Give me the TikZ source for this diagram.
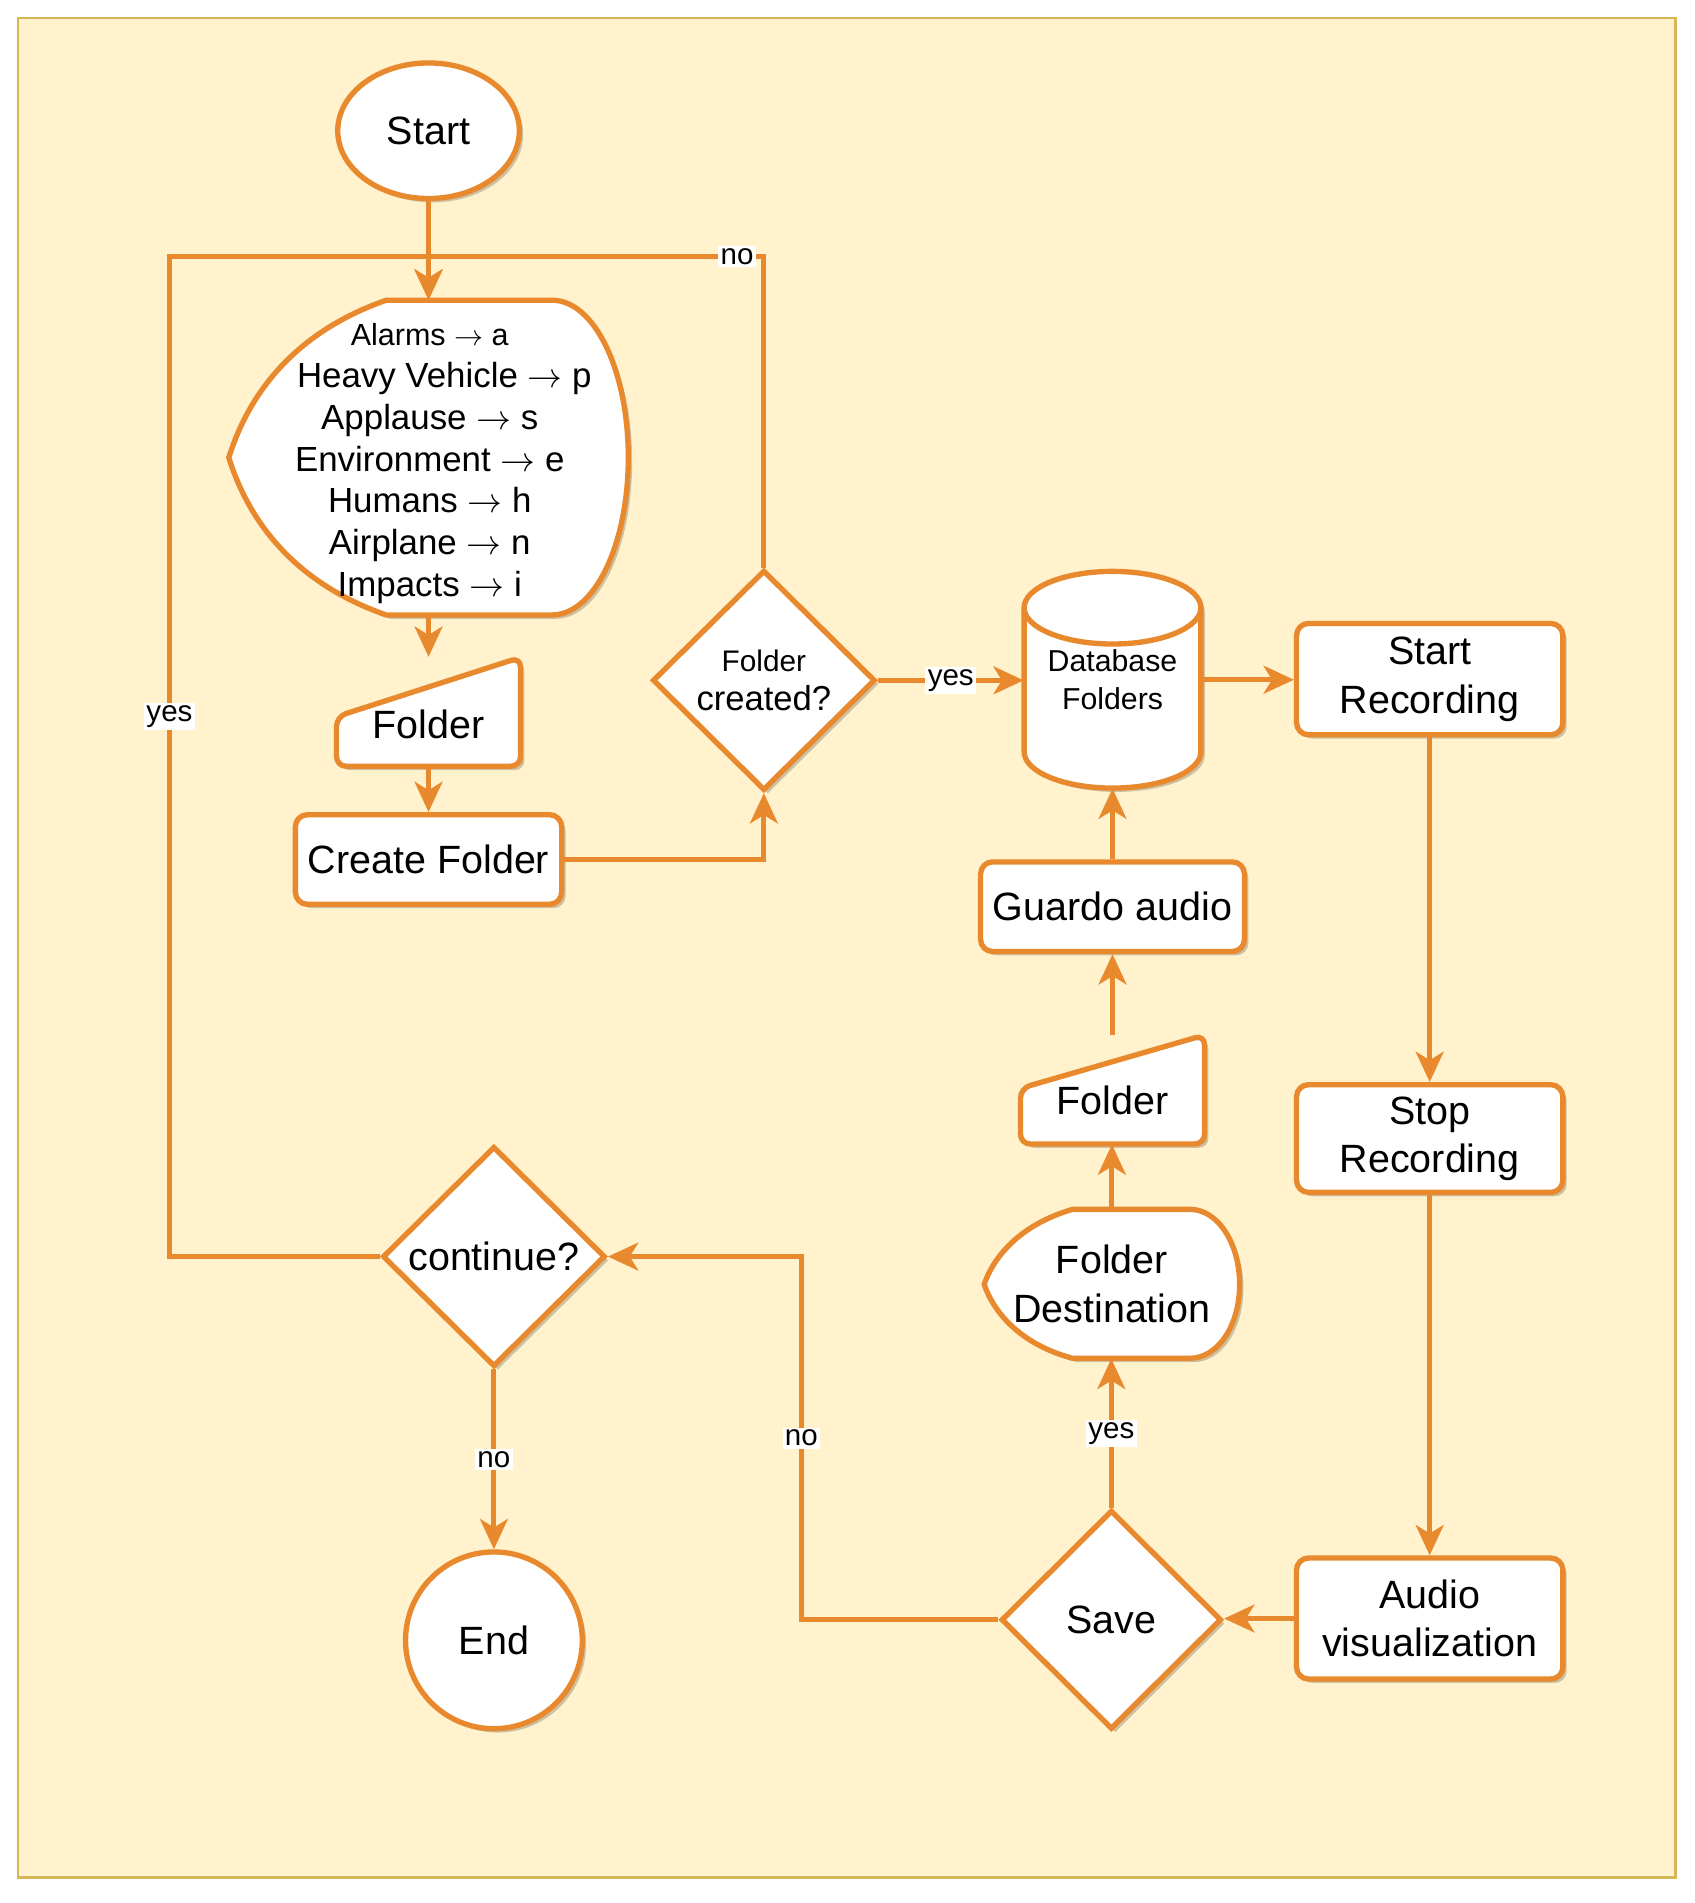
\documentclass[tikz,border=0pt]{standalone}
\usepackage{fontspec}
\setmainfont{Liberation Sans}
\usetikzlibrary{shapes.geometric,arrows.meta,shadows,calc}
\definecolor{org}{HTML}{E8892E}
\definecolor{bgfill}{HTML}{FFF2CC}
\definecolor{bgline}{HTML}{D6B656}
\newcommand{\mainfs}{\fontsize{16.3}{20}\selectfont}
\newcommand{\listfs}{\fontsize{14.4}{17.25}\selectfont}
\newcommand{\dbfs}{\fontsize{12.5}{16}\selectfont}
\newcommand{\ar}{$\rightarrow$}
\begin{document}
\begin{tikzpicture}[x=0.5pt,y=-0.5pt,
  shad/.style={drop shadow={shadow xshift=1.6pt,shadow yshift=-1.6pt,opacity=0.2,fill=black}},
  shapeline/.style={draw=org,line width=2.2pt,fill=white,shad},
  procbox/.style={shapeline,rectangle,rounded corners=5pt,inner sep=0pt,align=center,font=\mainfs},
  txt/.style={inner sep=0pt,align=center,font=\mainfs},
  decis/.style={shapeline,diamond,inner sep=0pt,align=center,font=\mainfs},
  conn/.style={draw=org,line width=2pt},
  arr/.style={conn,-{Stealth[length=12.5pt,width=11.5pt,inset=3.5pt]}},
  lbl/.style={fill=white,inner sep=1pt,font=\fontsize{12.2}{14}\selectfont,text=black}
]
\useasboundingbox (0,0) rectangle (1400,1572);
\fill[bgfill,draw=bgline,line width=1pt] (15,15) rectangle (1384,1551);

% Start
\node[shapeline,ellipse,minimum width=75pt,minimum height=56pt,inner sep=0pt,font=\mainfs] (start) at (354,108) {Start};

% display shape with categories
\draw[shapeline] (189,378) .. controls (204,330) and (239,276) .. (319,248) -- (456,248)
  .. controls (491,248) and (519,306) .. (519,378)
  .. controls (519,450) and (491,508) .. (456,508) -- (319,508)
  .. controls (239,480) and (204,426) .. (189,378) -- cycle;
\node[txt,minimum width=165pt,minimum height=130pt] (disp) at (354,378) {};
\node[txt,font=\listfs] (dispt) at (355,383)
  {{\fontsize{12.6}{17.25}\selectfont Alarms \ar{} a}\\
   \hspace*{12pt}Heavy Vehicle \ar{} p\\
   Applause \ar{} s\\
   Environment \ar{} e\\
   Humans \ar{} h\\
   Airplane \ar{} n\\
   Impacts \ar{} i};

% Folder (manual input) 1
\draw[shapeline,rounded corners=4pt] (278,592) -- (430,543) -- (430,633) -- (278,633) -- cycle;
\node[txt,minimum width=76pt,minimum height=45pt] (fold1) at (354,588) {};
\node[txt] (fold1t) at (354,598) {Folder};

% Create Folder
\node[procbox,minimum width=110pt,minimum height=37pt] (create) at (354,710) {Create Folder};

% Folder created?
\node[decis,font=\fontsize{14.3}{16}\selectfont,minimum width=92pt,minimum height=91pt] (fc) at (631,562)
  {{\fontsize{12.3}{16}\selectfont Folder}\\created?};

% Database cylinder
\draw[shapeline] (846,502) -- (846,621) arc[start angle=180,end angle=360,x radius=36.5pt,y radius=15pt]
  -- (992,502) arc[start angle=0,end angle=180,x radius=36.5pt,y radius=15pt] -- cycle;
\draw[draw=org,line width=2.2pt] (846,502) arc[start angle=180,end angle=360,x radius=36.5pt,y radius=15pt];
\node[txt,font=\dbfs,minimum width=73pt,minimum height=89.5pt] (db) at (919,561.5) {Database\\Folders};

% right column
\node[procbox,minimum width=110pt,minimum height=46pt] (srec) at (1181,561) {Start\\Recording};
\node[procbox,minimum width=110pt,minimum height=44.5pt] (stoprec) at (1181,940.5) {Stop\\Recording};
\node[procbox,minimum width=110pt,minimum height=50pt] (audio) at (1181,1337) {Audio\\visualization};

% Save
\node[decis,minimum width=91pt,minimum height=90.5pt] (save) at (918,1338) {Save};

% Folder Destination (display)
\draw[shapeline] (813,1061) .. controls (820,1040) and (841,1012) .. (886,999) -- (983,999)
  .. controls (1006,999) and (1024,1027) .. (1024,1061)
  .. controls (1024,1095) and (1006,1122) .. (983,1122) -- (886,1122)
  .. controls (841,1110) and (820,1082) .. (813,1061) -- cycle;
\node[txt,minimum width=105.5pt,minimum height=61.5pt] (fdest) at (918.5,1060.5) {Folder\\Destination};

% Folder 2
\draw[shapeline,rounded corners=4pt] (843,899) -- (995,855) -- (995,945) -- (843,945) -- cycle;
\node[txt,minimum width=76pt,minimum height=45pt] (fold2) at (919,900) {};
\node[txt] (fold2t) at (919,909) {Folder};

% Guardo audio
\node[procbox,minimum width=109pt,minimum height=37pt] (guardo) at (919,749) {Guardo audio};

% continue?
\node[decis,minimum width=92pt,minimum height=91pt] (cont) at (408,1038) {continue?};

% End
\node[shapeline,circle,minimum size=73pt,inner sep=0pt,font=\mainfs] (end) at (408,1355) {End};

% helper coordinates
\coordinate (loopL) at (140,212);
\coordinate (nb) at (662,1038);

% connectors
\draw[arr] (start.south) -- (disp.north);
\draw[arr] (cont.west) -| node[lbl,pos=0.77] (lyes1) {yes} (loopL) -| (disp.north);
\draw[arr] (fc.north) |- node[lbl,pos=0.54] (lno1) {no} (disp.north |- loopL) -- (disp.north);
\draw[arr] (disp.south) -- (fold1.north);
\draw[arr] (fold1.south) -- (create.north);
\draw[arr] (create.east) -| (fc.south);
\draw[arr] (fc.east) -- node[lbl] (lyes2) {yes} (fc.east -| db.west);
\draw[arr] (db.east) -- (db.east -| srec.west);
\draw[arr] (srec.south) -- (stoprec.north);
\draw[arr] (stoprec.south) -- (audio.north);
\draw[arr] (audio.west) -- (audio.west -| save.east);
\draw[arr] (save.north) -- node[lbl] (lyes3) {yes} (save.north |- fdest.south);
\draw[arr] (fdest.north) -- (fdest.north |- fold2.south);
\draw[arr] (fold2.north) -- (fold2.north |- guardo.south);
\draw[arr] (guardo.north) -- (guardo.north |- db.south);
\draw[arr] (save.west) -| node[lbl,pos=0.75] (lno2) {no} (nb) -- (cont.east);
\draw[arr] (cont.south) -- node[lbl] (lno3) {no} (end.north);
\end{tikzpicture}
\end{document}
